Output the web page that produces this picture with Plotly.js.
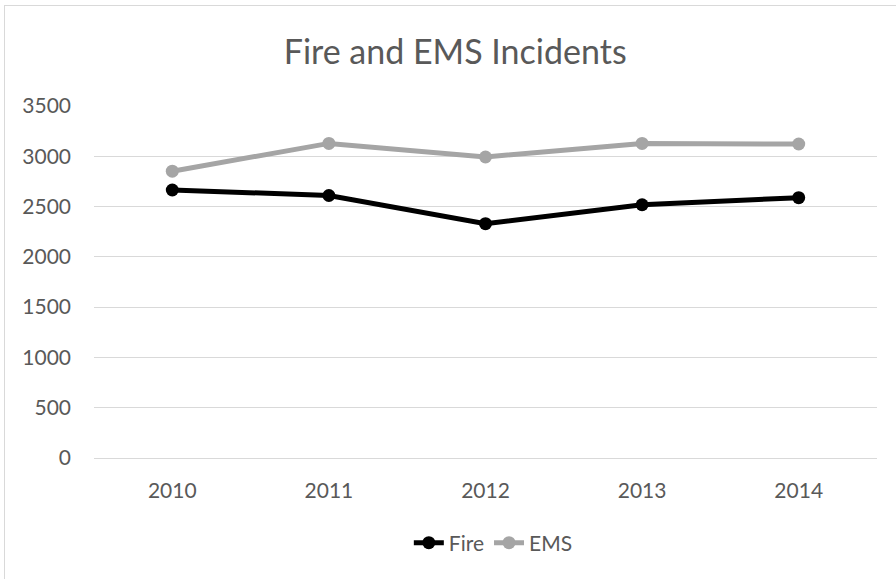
<!DOCTYPE html>
<html><head><meta charset="utf-8">
<script src="https://cdn.plot.ly/plotly-3.0.1.min.js"></script>
<style>
html,body{margin:0;padding:0;background:#fff;overflow:hidden;}
#frame{position:absolute;left:4px;top:5px;width:900px;height:580px;border:1px solid #d9d9d9;box-sizing:border-box;pointer-events:none;z-index:5;}
#chart{position:absolute;left:0;top:0;width:896px;height:579px;}
</style></head>
<body>
<div id="chart"></div>
<div id="frame"></div>
<script>
const years = ['2010','2011','2012','2013','2014'];
const fire = [2665, 2610, 2330, 2518, 2588];
const ems = [2852, 3128, 2993, 3128, 3122];
const yTicks = [0,500,1000,1500,2000,2500,3000,3500];

const font = 'Lato, "Open Sans", sans-serif';
const traces = [
  {x: years, y: fire, name: 'Fire', type: 'scatter', mode: 'lines+markers',
   line: {color: '#000000', width: 5}, marker: {color: '#000000', size: 13}},
  {x: years, y: ems, name: 'EMS', type: 'scatter', mode: 'lines+markers',
   line: {color: '#a5a5a5', width: 5}, marker: {color: '#a5a5a5', size: 13}}
];
const layout = {
  width: 896, height: 579,
  margin: {l: 94, r: 19, t: 106, b: 121},
  paper_bgcolor: '#ffffff', plot_bgcolor: '#ffffff',
  font: {family: font, color: '#595959', size: 21},
  title: {text: 'Fire and EMS Incidents', font: {family: font, size: 34, color: '#595959'},
          x: 0.508, xanchor: 'center', xref: 'container', y: 1 - 52/579, yanchor: 'middle', yref: 'container'},
  xaxis: {type: 'category', range: [-0.5, 4.5], showgrid: false, showline: true, linecolor: '#d9d9d9', linewidth: 1,
          ticks: '', ticklabelstandoff: 14, tickfont: {size: 21, color: '#595959'}, zeroline: false},
  yaxis: {range: [0, 3500], tickvals: yTicks, showgrid: true, gridcolor: '#d9d9d9', gridwidth: 1,
          zeroline: false, showline: false, ticks: '', ticklabelstandoff: 22,
          tickfont: {size: 21, color: '#595959'}},
  showlegend: true,
  legend: {orientation: 'h', x: 0.51, xanchor: 'center', y: (458-543)/352, yanchor: 'middle',
           font: {size: 21, color: '#595959'}, itemwidth: 30, tracegroupgap: 0}
};
Plotly.newPlot('chart', traces, layout, {displayModeBar: false, staticPlot: true});
</script>
</body></html>
